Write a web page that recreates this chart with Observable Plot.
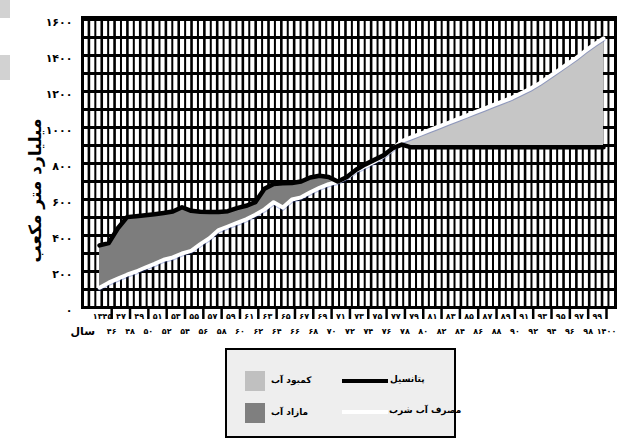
<!DOCTYPE html>
<html>
<head>
<meta charset="utf-8">
<script src="https://cdn.jsdelivr.net/npm/d3@7"></script>
<script src="https://cdn.jsdelivr.net/npm/@observablehq/plot@0.6"></script>
<style>
  html, body { margin: 0; padding: 0; background: #fff; }
  #wrap { position: relative; width: 618px; height: 440px; overflow: hidden; font-family: "DejaVu Sans", sans-serif; }
  #chart { position: absolute; left: 0; top: 0; }
  .scan { position: absolute; left: 0; width: 10px; background: #d2d2d2; }
  #legend { position: absolute; left: 225px; top: 348px; width: 227px; height: 86px; border: 2px solid #000; background: #eeeeee; }
  .sw { position: absolute; width: 20px; height: 20px; }
  .lt { position: absolute; font-size: 9px; font-weight: bold; direction: rtl; white-space: nowrap; color: #000; }
  .ln { position: absolute; height: 4px; }
</style>
</head>
<body>
<div id="wrap">
  <div class="scan" style="top:0;height:18px"></div>
  <div class="scan" style="top:55px;height:25px"></div>
  <div id="chart"></div>
  <div id="legend">
    <div class="sw" style="left:18px;top:21px;background:#c0c0c0"></div>
    <div class="lt" style="left:44px;top:25px">کمبود آب</div>
    <div class="sw" style="left:18px;top:53px;background:#7f7f7f"></div>
    <div class="lt" style="left:44px;top:57px">مازاد آب</div>
    <div class="ln" style="left:115px;top:29px;width:46px;background:#000"></div>
    <div class="lt" style="left:163px;top:24px">پتانسیل</div>
    <div class="ln" style="left:115px;top:60px;width:46px;background:#fff"></div>
    <div class="lt" style="left:162px;top:55px">مصرف آب شرب</div>
  </div>
</div>
<script>
const years = [1345,1346,1347,1348,1349,1350,1351,1352,1353,1354,1355,1356,1357,1358,1359,1360,
  1361,1362,1363,1364,1365,1366,1367,1368,1369,1370,1371,1372,1373,1374,1375,1376,1377,1378,1379,1380,
  1381,1382,1383,1384,1385,1386,1387,1388,1389,1390,1391,1392,1393,1394,1395,1396,1397,1398,1399,1400];

// پتانسیل (potential) – black line
const potential = [345,358,440,502,507,513,518,525,533,557,537,532,530,530,535,552,
  565,585,660,686,690,692,700,722,732,725,700,725,765,795,820,845,885,905,890,890,
  890,890,890,890,890,890,890,890,890,890,890,890,890,890,890,890,890,890,890,890];

// مصرف آب شرب (consumption) – white line
const consumption = [110,138,160,182,200,222,242,265,278,300,315,352,385,430,450,470,
  490,515,545,585,555,600,612,640,665,685,698,722,760,785,810,840,880,925,945,965,
  985,1005,1025,1045,1065,1085,1105,1125,1145,1165,1190,1215,1245,1280,1315,1350,1385,1425,1462,1495];

const yTicks = [0,200,400,600,800,1000,1200,1400,1600];
const yTickLabels = ["۰","۲۰۰","۴۰۰","۶۰۰","۸۰۰","۱۰۰۰","۱۲۰۰","۱۴۰۰","۱۶۰۰"];

const oddYears = [1345,1347,1349,1351,1353,1355,1357,1359,1361,1363,1365,1367,1369,1371,1373,1375,1377,1379,1381,1383,1385,1387,1389,1391,1393,1395,1397,1399];
const oddLabels = ["۱۳۴۵","۴۷","۴۹","۵۱","۵۳","۵۵","۵۷","۵۹","۶۱","۶۳","۶۵","۶۷","۶۹","۷۱","۷۳","۷۵","۷۷","۷۹","۸۱","۸۳","۸۵","۸۷","۸۹","۹۱","۹۳","۹۵","۹۷","۹۹"];
const evenYears = [1346,1348,1350,1352,1354,1356,1358,1360,1362,1364,1366,1368,1370,1372,1374,1376,1378,1380,1382,1384,1386,1388,1390,1392,1394,1396,1398,1400];
const evenLabels = ["۴۶","۴۸","۵۰","۵۲","۵۴","۵۶","۵۸","۶۰","۶۲","۶۴","۶۶","۶۸","۷۰","۷۲","۷۴","۷۶","۷۸","۸۰","۸۲","۸۴","۸۶","۸۸","۹۰","۹۲","۹۴","۹۶","۹۸","۱۴۰۰"];

const yTitle = "میلیارد متر مکعب";
const xTitle = "سال";

const rows = years.map((year, i) => ({year, p: potential[i], w: consumption[i]}));
const yMap = new Map(yTicks.map((d, i) => [d, yTickLabels[i]]));
const oddMap = new Map(oddYears.map((d, i) => [d, oddLabels[i]]));
const evenMap = new Map(evenYears.map((d, i) => [d, evenLabels[i]]));

const xDomain = [1343.14, 1401.31];
const gridX = d3.range(xDomain[0] + 0.7, xDomain[1] - 0.2, 0.7);
const gridY = d3.range(100, 1700, 100);
const font = "DejaVu Sans";

const chart = Plot.plot({
  width: 618,
  height: 342,
  marginLeft: 82,
  marginRight: 3,
  marginTop: 17,
  marginBottom: 35,
  style: {background: "transparent", fontFamily: font},
  x: {domain: xDomain, axis: null},
  y: {domain: [0, 1611], axis: null},
  marks: [
    Plot.ruleX(gridX, {stroke: "#000", strokeWidth: (d, i) => (i % 2 ? 2.0 : 2.6)}),
    Plot.ruleY(gridY, {stroke: "#000", strokeWidth: 3.2}),
    Plot.areaY(rows, {x: "year", y1: "w", y2: d => Math.max(d.p, d.w), fill: "#7d7d7d"}),
    Plot.areaY(rows, {x: "year", y1: "p", y2: d => Math.max(d.p, d.w), fill: "#c6c6c6"}),
    Plot.line(rows, {x: "year", y: "w", stroke: "#2b44a8", strokeWidth: 4, dy: 1.2, strokeOpacity: 0.35}),
    Plot.line(rows, {x: "year", y: "w", stroke: "#fff", strokeWidth: 4}),
    Plot.line(rows, {x: "year", y: "p", stroke: "#000", strokeWidth: 4.5}),
    Plot.frame({stroke: "#000", strokeWidth: 3}),
    Plot.axisY(yTicks, {tickSize: 0, tickPadding: 10, tickFormat: d => yMap.get(d), fontSize: 11, fontWeight: "bold", fontFamily: font, dy: 3, label: null}),
    Plot.axisX(oddYears, {tickSize: 0, tickPadding: 6, tickFormat: d => oddMap.get(d), fontSize: 8, fontWeight: "bold", fontFamily: font, dx: 3, label: null}),
    Plot.axisX(evenYears, {tickSize: 12, tickPadding: 9, strokeWidth: 2.5, tickFormat: d => evenMap.get(d), fontSize: 8, fontWeight: "bold", fontFamily: font, dx: 3, label: null}),
    Plot.text([xTitle], {frameAnchor: "bottom-left", dx: -12, dy: 27, fontSize: 11, fontWeight: "bold", fontFamily: font}),
    Plot.text([yTitle], {frameAnchor: "left", textAnchor: "middle", rotate: -90, dx: -47, dy: 28, fontSize: 17, fontWeight: "bold", fontFamily: font})
  ]
});
document.getElementById("chart").appendChild(chart);
</script>
</body>
</html>
